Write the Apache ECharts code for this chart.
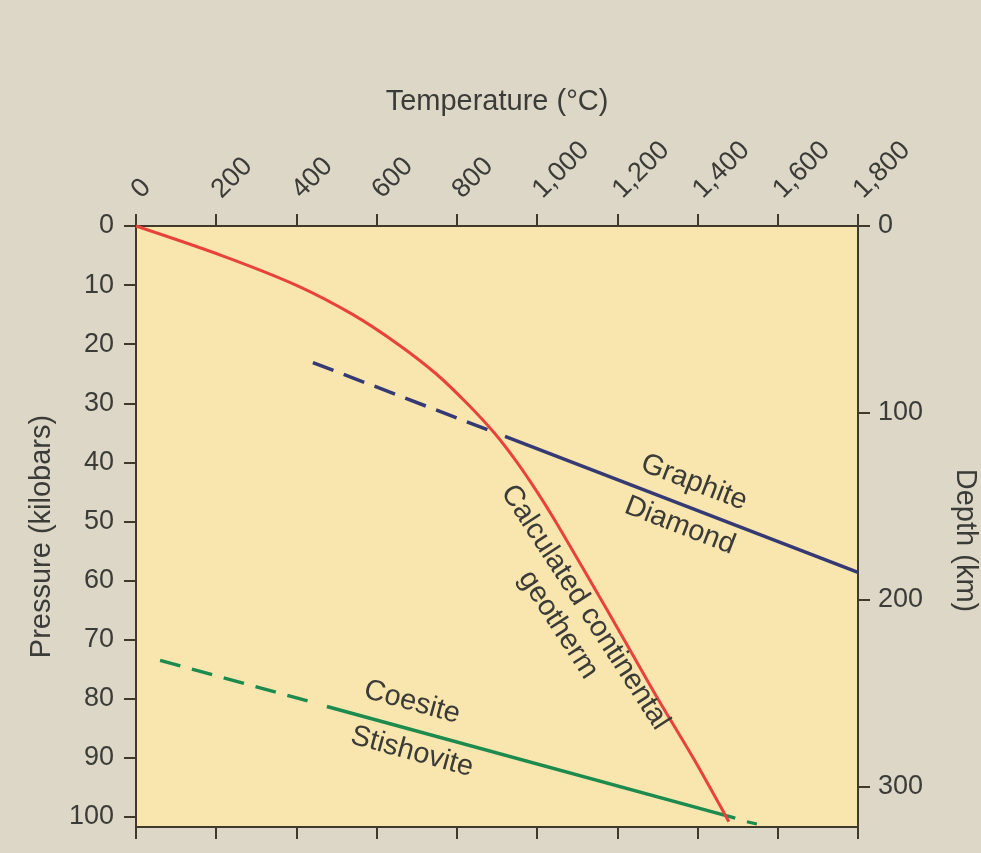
<!DOCTYPE html>
<html><head><meta charset="utf-8">
<script src="https://cdn.jsdelivr.net/npm/echarts@6/dist/echarts.min.js"></script>
<style>html,body{margin:0;padding:0;background:#ddd7c7;} #c{width:981px;height:853px;}</style>
</head><body><div id="c"></div>
<script>
// ---- axis ticks ----
const tempTicks = [0, 200, 400, 600, 800, 1000, 1200, 1400, 1600, 1800];
const pressureTicks = [0, 10, 20, 30, 40, 50, 60, 70, 80, 90, 100];
const depthTicks = [0, 100, 200, 300];
const tempMax = 1800;
const pressureMax = 101.7;
const kmPerKbar = 3.16;

// ---- calculated continental geotherm (°C, kbar) ----
const geothermT = [0, 214, 399, 541, 653, 748, 825, 893, 950, 1000, 1046, 1132, 1217, 1301, 1389, 1478];
const geothermP = [0, 5, 10, 15, 20, 25, 30, 35, 40, 45, 50, 60, 70, 80, 90, 100.8];

// ---- graphite / diamond boundary ----
const graphiteDashedT = [441, 900];
const graphiteDashedP = [23.1, 35.1];
const graphiteSolidT = [920, 1800];
const graphiteSolidP = [35.6, 58.6];

// ---- coesite / stishovite boundary ----
const coesiteDashedT = [60, 446];
const coesiteDashedP = [73.5, 80.7];
const coesiteSolidT = [476, 1494];
const coesiteSolidP = [81.3, 100.2];
const coesiteTailT = [1523, 1548];
const coesiteTailP = [100.8, 101.2];

// ---- text annotations (anchored in data space) ----
const annoText = ['Graphite', 'Diamond', 'Calculated continental\ngeotherm', 'Coesite', 'Stishovite'];
const annoT = [1391, 1356, 1086, 688, 688];
const annoP = [43.4, 50.7, 66.0, 80.6, 89.0];
const annoAngle = [21.1, 21.1, 57, 15.4, 15.4]; // clockwise degrees on screen

const pairs = (xs, ys) => xs.map((x, i) => [x, ys[i]]);

const FONT = 'Liberation Sans, Arial, sans-serif';
const TXT = '#3b3b38';
const AX = '#3f3a2a';

const chart = echarts.init(document.getElementById('c'), null, {renderer: 'canvas'});

const axLine = {show: true, onZero: false, lineStyle: {color: AX, width: 2}};
const axTick = {show: true, length: 12, lineStyle: {color: AX, width: 2}};

const lineSeries = (name, xs, ys, color, width, type, smooth) => ({
  name, type: 'line', xAxisIndex: 0, yAxisIndex: 0,
  data: pairs(xs, ys), showSymbol: false, symbol: 'none', smooth: smooth || false,
  lineStyle: {color, width, type, cap: 'butt'}, silent: true, clip: true, z: 3
});

chart.setOption({
  animation: false,
  backgroundColor: '#ddd7c7',
  textStyle: {fontFamily: FONT},
  grid: {left: 136, top: 226, right: 123, bottom: 26, show: true,
         outerBoundsMode: 'none', containLabel: false,
         backgroundColor: '#f8e6ae', borderWidth: 0},
  xAxis: [
    {type: 'value', position: 'top', min: 0, max: tempMax, interval: 200,
     axisLine: axLine, axisTick: axTick, splitLine: {show: false},
     axisLabel: {rotate: -45, fontSize: 27, color: TXT, margin: 32, fontFamily: FONT,
                 formatter: v => v.toLocaleString('en-US')},
     name: 'Temperature (°C)', nameLocation: 'middle', nameGap: 110,
     nameTextStyle: {fontSize: 29, color: TXT, fontFamily: FONT}},
    {type: 'value', position: 'bottom', min: 0, max: tempMax, interval: 200,
     axisLine: axLine, axisTick: axTick, splitLine: {show: false},
     axisLabel: {show: false}}
  ],
  yAxis: [
    {type: 'value', position: 'left', inverse: true, min: 0, max: pressureMax,
     axisLine: axLine,
     axisTick: Object.assign({customValues: pressureTicks}, axTick),
     splitLine: {show: false},
     axisLabel: {customValues: pressureTicks, fontSize: 27, color: TXT, margin: 22, fontFamily: FONT},
     name: 'Pressure (kilobars)', nameLocation: 'middle', nameGap: 80,
     nameTextStyle: {fontSize: 29, color: TXT, fontFamily: FONT, padding: [0, 20, 0, 0]}},
    {type: 'value', position: 'right', inverse: true, min: 0, max: pressureMax * kmPerKbar,
     axisLine: axLine,
     axisTick: Object.assign({customValues: depthTicks}, axTick),
     splitLine: {show: false},
     axisLabel: {customValues: depthTicks, fontSize: 27, color: TXT, margin: 20, fontFamily: FONT},
     name: 'Depth (km)', nameLocation: 'middle', nameGap: 92, nameRotate: -90,
     nameTextStyle: {fontSize: 29, color: TXT, fontFamily: FONT, padding: [0, 0, 0, 28]}}
  ],
  series: [
    lineSeries('Graphite-Diamond (dashed)', graphiteDashedT, graphiteDashedP, '#363a74', 3.5, [22, 11]),
    lineSeries('Graphite-Diamond', graphiteSolidT, graphiteSolidP, '#363a74', 3.5, 'solid'),
    lineSeries('Coesite-Stishovite (dashed)', coesiteDashedT, coesiteDashedP, '#1d8a4e', 3.5, [21, 12]),
    lineSeries('Coesite-Stishovite', coesiteSolidT, coesiteSolidP, '#1d8a4e', 3.5, 'solid'),
    lineSeries('Coesite-Stishovite tail', coesiteTailT, coesiteTailP, '#1d8a4e', 3, 'solid'),
    lineSeries('Calculated continental geotherm', geothermT, geothermP, '#e8423a', 3, 'solid', 0.3)
  ]
});

const graphics = annoText.map((t, i) => {
  const p = chart.convertToPixel({xAxisIndex: 0, yAxisIndex: 0}, [annoT[i], annoP[i]]);
  return {
    type: 'text', x: p[0], y: p[1], rotation: -annoAngle[i] * Math.PI / 180,
    z: 10, silent: true,
    style: {text: t, fill: TXT, font: '29px ' + FONT, align: 'center', verticalAlign: 'middle', lineHeight: 32}
  };
});
chart.setOption({graphic: graphics});
</script>
</body></html>
